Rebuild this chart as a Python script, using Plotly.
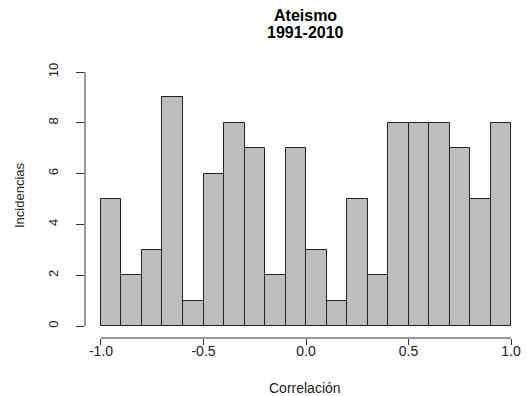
import plotly.graph_objects as go

# Data
bin_edges = [-1.0, -0.9, -0.8, -0.7, -0.6, -0.5, -0.4, -0.3, -0.2, -0.1, 0.0,
             0.1, 0.2, 0.3, 0.4, 0.5, 0.6, 0.7, 0.8, 0.9, 1.0]
counts = [5, 2, 3, 9, 1, 6, 8, 7, 2, 7, 3, 1, 5, 2, 8, 8, 8, 7, 5, 8]
x_ticks = [-1.0, -0.5, 0.0, 0.5, 1.0]
x_tick_labels = ["-1.0", "-0.5", "0.0", "0.5", "1.0"]
y_ticks = [0, 2, 4, 6, 8, 10]
y_tick_labels = ["0", "2", "4", "6", "8", "10"]
title_lines = ["Ateismo", "1991-2010"]
x_title = "Correlación"
y_title = "Incidencias"

centers = [(a + b) / 2 for a, b in zip(bin_edges[:-1], bin_edges[1:])]
widths = [b - a for a, b in zip(bin_edges[:-1], bin_edges[1:])]

FONT = "Liberation Sans, Arial, sans-serif"
W, H = 527, 396
# plot area in page pixels
PL, PR, PT, PB = 85, 527, 62, 338
L = PL
R = W - PR
T = PT
B = H - PB
plot_w = PR - PL
plot_h = PB - PT

def px_to_paper_x(px):
    return (px - PL) / plot_w

def py_to_paper_y(py):
    return (PB - py) / plot_h

fig = go.Figure()
fig.add_trace(go.Bar(
    x=centers, y=counts, width=widths,
    marker=dict(color="#bebebe", line=dict(color="#222222", width=1)),
    hoverinfo="x+y",
))

fig.update_layout(
    width=W, height=H,
    margin=dict(l=L, r=R, t=T, b=B, pad=0),
    paper_bgcolor="white", plot_bgcolor="white",
    showlegend=False,
    bargap=0,
    font=dict(family=FONT, color="#222222"),
    xaxis=dict(
        range=[-1.078, 1.078], tickvals=x_ticks, ticktext=x_tick_labels,
        ticks="outside", ticklen=6, tickwidth=1, tickcolor="#333333",
        ticklabelstandoff=-6, ticklabeloverflow="allow",
        showline=False, showgrid=False, zeroline=False,
        tickfont=dict(size=14, family=FONT, color="#222222"),
        fixedrange=True,
    ),
    yaxis=dict(
        range=[-0.472, 10.394], tickvals=y_ticks, ticktext=y_tick_labels,
        ticks="outside", ticklen=8, tickwidth=1, tickcolor="#333333",
        tickangle=-90, ticklabelstandoff=13, ticklabeloverflow="allow",
        showline=False, showgrid=False, zeroline=False,
        tickfont=dict(size=13, family=FONT, color="#222222"),
        fixedrange=True,
    ),
    shapes=[
        dict(type="line", xref="x", yref="paper", x0=x_ticks[0], x1=x_ticks[-1],
             y0=0, y1=0, line=dict(color="#333333", width=1)),
        dict(type="line", xref="paper", yref="y", x0=0, x1=0,
             y0=y_ticks[0], y1=y_ticks[-1], line=dict(color="#333333", width=1)),
    ],
    annotations=[
        dict(text="<b>" + title_lines[0] + "</b>", xref="paper", yref="paper",
             x=px_to_paper_x(305), y=py_to_paper_y(16), showarrow=False,
             xanchor="center", yanchor="middle",
             font=dict(size=16, family=FONT, color="#000000")),
        dict(text="<b>" + title_lines[1] + "</b>", xref="paper", yref="paper",
             x=px_to_paper_x(305), y=py_to_paper_y(33), showarrow=False,
             xanchor="center", yanchor="middle",
             font=dict(size=16, family=FONT, color="#000000")),
        dict(text=x_title, xref="paper", yref="paper",
             x=px_to_paper_x(305), y=py_to_paper_y(388), showarrow=False,
             xanchor="center", yanchor="middle",
             font=dict(size=14, family=FONT, color="#222222")),
        dict(text=y_title, xref="paper", yref="paper",
             x=px_to_paper_x(19), y=py_to_paper_y(195), showarrow=False,
             xanchor="center", yanchor="middle", textangle=-90,
             font=dict(size=13, family=FONT, color="#222222")),
    ],
)

fig.write_html(
    "out.html",
    config={"displayModeBar": False},
    post_script="document.body.style.margin='0';document.body.style.overflow='hidden';",
)
